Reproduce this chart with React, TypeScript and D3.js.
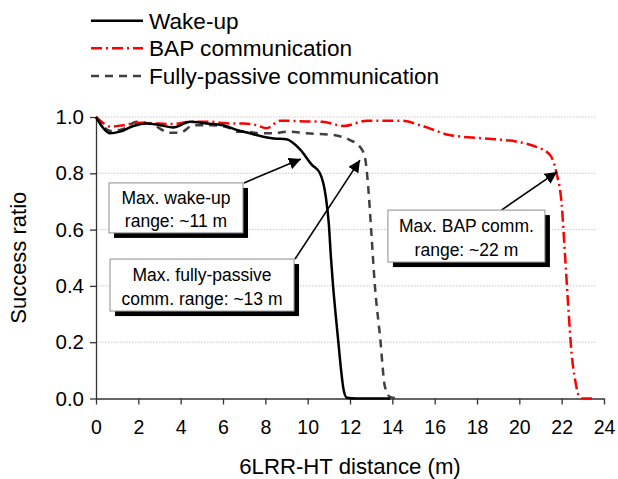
import * as d3 from "d3";
import { useEffect, useRef } from "react";

// distances (m) and success ratios
const wakeUpX = [0, 0.35, 0.66, 1.13, 1.76, 2.39, 3.02, 3.65, 4.44, 5.23, 6.01, 6.65, 7.27, 7.9, 8.4, 9.0, 9.64, 10.2, 10.58, 10.85, 11.0, 11.1, 11.2, 11.32, 11.45, 11.58, 11.7, 11.85, 12.3, 13.9];
const wakeUpY = [1.0, 0.96, 0.942, 0.948, 0.968, 0.977, 0.971, 0.963, 0.983, 0.977, 0.971, 0.954, 0.942, 0.93, 0.924, 0.921, 0.885, 0.83, 0.8, 0.72, 0.62, 0.5, 0.4, 0.3, 0.2, 0.1, 0.03, 0.003, 0, 0];

const bapX = [0, 0.35, 0.66, 1.29, 2.08, 2.87, 3.65, 4.44, 5.39, 6.33, 6.96, 7.59, 8.06, 8.7, 9.6, 10.7, 11.7, 12.8, 14.4, 15.5, 16.7, 18.3, 19.9, 20.8, 21.45, 21.76, 22.0, 22.15, 22.3, 22.47, 22.65, 22.8, 23.0, 23.5];
const bapY = [1.0, 0.978, 0.966, 0.971, 0.98, 0.977, 0.975, 0.983, 0.983, 0.977, 0.977, 0.971, 0.96, 0.987, 0.985, 0.983, 0.968, 0.987, 0.987, 0.966, 0.936, 0.924, 0.912, 0.894, 0.865, 0.8, 0.69, 0.52, 0.34, 0.16, 0.06, 0.012, 0, 0];

const passiveX = [0, 0.35, 0.7, 1.3, 1.92, 2.6, 3.5, 3.97, 4.6, 5.5, 6.33, 6.65, 7.1, 7.75, 8.4, 9.0, 9.95, 11.2, 12.0, 12.47, 12.7, 12.86, 13.02, 13.18, 13.42, 13.65, 13.89, 14.3];
const passiveY = [1.0, 0.965, 0.95, 0.958, 0.983, 0.975, 0.944, 0.944, 0.971, 0.971, 0.96, 0.948, 0.948, 0.942, 0.942, 0.948, 0.942, 0.936, 0.918, 0.894, 0.859, 0.752, 0.575, 0.397, 0.22, 0.042, 0.006, 0];

const seriesNames = ["Wake-up", "BAP communication", "Fully-passive communication"];

const xTicks = d3.range(0, 25, 2);
const yTicks = [0, 0.2, 0.4, 0.6, 0.8, 1.0];

const annotationLines = [
  ["Max. wake-up", "range: ~11 m"],
  ["Max. fully-passive", "comm. range: ~13 m"],
  ["Max. BAP comm.", "range: ~22 m"],
];
// arrow tips on the curves (distance, ratio)
const annotationTips = [
  [9.68, 0.851],
  [12.47, 0.847],
  [21.78, 0.805],
];

const App = () => {
  const ref = useRef<SVGSVGElement>(null);

  useEffect(() => {
    const width = 618, height = 479;
    const margin = { top: 117, right: 14, bottom: 80.5, left: 96 };
    const svg = d3.select(ref.current);
    svg.selectAll("*").remove();

    const font = "'Liberation Sans', Arial, sans-serif";

    const x = d3.scaleLinear().domain([0, 24]).range([margin.left, width - margin.right]);
    const y = d3.scaleLinear().domain([0, 1]).range([height - margin.bottom, margin.top]);

    const defs = svg.append("defs");
    defs.append("marker")
      .attr("id", "arrow")
      .attr("viewBox", "0 0 10 10")
      .attr("refX", 10)
      .attr("refY", 5)
      .attr("markerWidth", 12)
      .attr("markerHeight", 12)
      .attr("markerUnits", "userSpaceOnUse")
      .attr("orient", "auto")
      .append("path")
      .attr("d", "M0,0 L10,5 L0,10 Z")
      .attr("fill", "#000");

    // grid
    svg.append("g")
      .selectAll("line")
      .data(yTicks.filter((d) => d > 0))
      .join("line")
      .attr("x1", x(0))
      .attr("x2", x(23.6))
      .attr("y1", (d) => y(d))
      .attr("y2", (d) => y(d))
      .attr("stroke", "#c8c8c8")
      .attr("stroke-width", 1)
      .attr("stroke-dasharray", "1.5,1.5");

    // axes
    const xAxis = svg.append("g")
      .attr("transform", `translate(0,${y(0)})`)
      .call(d3.axisBottom(x).tickValues(xTicks).tickSize(6).tickPadding(16).tickSizeOuter(0).tickFormat(d3.format("d")));
    const yAxis = svg.append("g")
      .attr("transform", `translate(${x(0)},0)`)
      .call(d3.axisLeft(y).tickValues(yTicks).tickSize(6).tickPadding(6).tickSizeOuter(0).tickFormat(d3.format(".1f")));
    [xAxis, yAxis].forEach((g) => {
      g.select(".domain").attr("stroke", "#333").attr("stroke-width", 1.3);
      g.selectAll(".tick line").attr("stroke", "#333").attr("stroke-width", 1.3);
      g.selectAll("text").attr("font-family", font).attr("font-size", 19.5).attr("fill", "#000");
    });
    yAxis.selectAll("text").attr("font-size", 20.5);

    svg.append("text")
      .attr("x", (x(0) + x(24)) / 2)
      .attr("y", 474)
      .attr("text-anchor", "middle")
      .attr("font-family", font)
      .attr("font-size", 22.2)
      .text("6LRR-HT distance (m)");
    svg.append("text")
      .attr("transform", `translate(26,${(y(0) + y(1)) / 2}) rotate(-90)`)
      .attr("text-anchor", "middle")
      .attr("font-family", font)
      .attr("font-size", 22)
      .text("Success ratio");

    // lines
    const line = d3.line<[number, number]>()
      .x((d) => x(d[0]))
      .y((d) => y(d[1]))
      .curve(d3.curveMonotoneX);

    const series = [
      { xs: wakeUpX, ys: wakeUpY, color: "#000", dash: null },
      { xs: bapX, ys: bapY, color: "#ff0000", dash: "11,4,2,4" },
      { xs: passiveX, ys: passiveY, color: "#404040", dash: "8,6" },
    ];

    series.slice().reverse().forEach((s) => {
      svg.append("path")
        .datum(s.xs.map((v, i) => [v, s.ys[i]] as [number, number]))
        .attr("fill", "none")
        .attr("stroke", s.color)
        .attr("stroke-width", 2.5)
        .attr("stroke-dasharray", s.dash)
        .attr("d", line);
    });

    // legend
    const legend = svg.append("g");
    series.forEach((s, i) => {
      const ly = 20.7 + i * 27.6;
      legend.append("line")
        .attr("x1", 91).attr("x2", 143)
        .attr("y1", ly).attr("y2", ly)
        .attr("stroke", s.color)
        .attr("stroke-width", 2.5)
        .attr("stroke-dasharray", s.dash);
      legend.append("text")
        .attr("x", 149)
        .attr("y", ly + 8)
        .attr("font-family", font)
        .attr("font-size", 22.6)
        .text(seriesNames[i]);
    });

    // annotation boxes: center (data units), size, arrow start corner
    const boxes = [
      { cx: 3.78, cy: 0.677, w: 134, h: 50, start: "tr" },
      { cx: 5.01, cy: 0.403, w: 184, h: 52, start: "tr" },
      { cx: 17.5, cy: 0.577, w: 157, h: 52, start: "tc" },
    ];

    boxes.forEach((b, i) => {
      const cx = x(b.cx), cy = y(b.cy);
      const left = cx - b.w / 2, top = cy - b.h / 2;
      const sx = b.start === "tr" ? left + b.w + 1 : cx + 35;
      const sy = top;
      const [tx, ty] = annotationTips[i];
      svg.append("line")
        .attr("x1", sx).attr("y1", sy)
        .attr("x2", x(tx)).attr("y2", y(ty))
        .attr("stroke", "#000")
        .attr("stroke-width", 1.6)
        .attr("marker-end", "url(#arrow)");
      svg.append("rect")
        .attr("x", left + 5).attr("y", top + 5)
        .attr("width", b.w).attr("height", b.h)
        .attr("fill", "#000");
      svg.append("rect")
        .attr("x", left).attr("y", top)
        .attr("width", b.w).attr("height", b.h)
        .attr("fill", "#fff")
        .attr("stroke", "#8c8c8c")
        .attr("stroke-width", 1);
      annotationLines[i].forEach((t, j) => {
        svg.append("text")
          .attr("x", cx)
          .attr("y", cy - 4 + j * 23.5)
          .attr("text-anchor", "middle")
          .attr("font-family", font)
          .attr("font-size", 17.5)
          .text(t);
      });
    });
  }, []);

  return (
    <svg
      ref={ref}
      width={618}
      height={479}
      style={{ position: "absolute", left: 0, top: 0, background: "#fff" }}
    />
  );
};

export default App;
